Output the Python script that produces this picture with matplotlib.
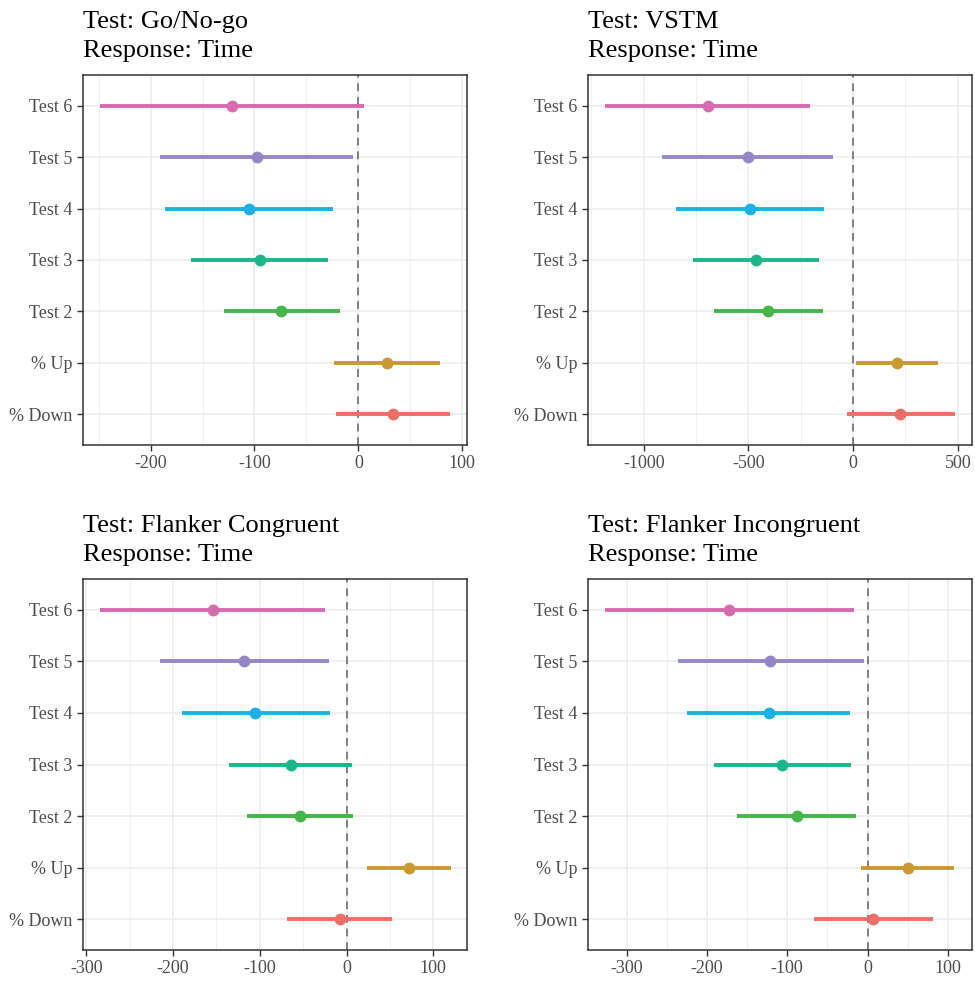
import numpy as np
import matplotlib
matplotlib.use('Agg')
import matplotlib.pyplot as plt
from matplotlib.ticker import MultipleLocator

plt.rcParams['font.family'] = ['Liberation Serif', 'DejaVu Serif']
plt.rcParams['axes.unicode_minus'] = False

categories = ['% Down', '% Up', 'Test 2', 'Test 3', 'Test 4', 'Test 5', 'Test 6']
colors = ['#EF6E67', '#C99A2E', '#45B649', '#1BB68A', '#1AB1E6', '#9587C6', '#D86BAF']

titles = ['Go/No-go', 'VSTM', 'Flanker Congruent', 'Flanker Incongruent']

# estimate, lower, upper for each category (bottom to top)
gonogo_est = [33, 28, -74, -95, -105, -98, -122]
gonogo_lo = [-22, -23, -129, -161, -186, -191, -249]
gonogo_hi = [88, 79, -18, -29, -24, -5, 5]

vstm_est = [226, 210, -404, -463, -492, -503, -694]
vstm_lo = [-29, 14, -666, -763, -846, -911, -1185]
vstm_hi = [486, 406, -143, -164, -137, -96, -204]

fc_est = [-8, 72, -54, -64, -105, -118, -154]
fc_lo = [-69, 24, -115, -135, -190, -215, -284]
fc_hi = [53, 120, 7, 6, -19, -20, -25]

fi_est = [7, 50, -88, -106, -123, -121, -172]
fi_lo = [-67, -8, -162, -191, -225, -236, -327]
fi_hi = [81, 108, -14, -21, -22, -5, -17]

panels = [
    (gonogo_est, gonogo_lo, gonogo_hi, (-265, 104.5), 100),
    (vstm_est, vstm_lo, vstm_hi, (-1266, 568), 500),
    (fc_est, fc_lo, fc_hi, (-304, 139), 100),
    (fi_est, fi_lo, fi_hi, (-348, 130), 100),
]

fig = plt.figure(figsize=(9.75, 9.82), dpi=100)
W, H = 975, 982
boxes = [(83, 75, 467, 445), (588, 75, 972, 445), (83, 579, 467, 950), (588, 579, 972, 950)]
title_base = [28, 28, 532, 532]

for i, (est, lo, hi, xl, step) in enumerate(panels):
    x0, y0, x1, y1 = boxes[i]
    ax = fig.add_axes([x0 / W, 1 - y1 / H, (x1 - x0) / W, (y1 - y0) / H])
    y = np.arange(1, len(categories) + 1)
    ax.xaxis.set_major_locator(MultipleLocator(step))
    ax.xaxis.set_minor_locator(MultipleLocator(step / 2))
    ax.grid(which='major', axis='both', color='#EBEBEB', lw=1.1, zorder=0)
    ax.grid(which='minor', axis='x', color='#EBEBEB', lw=0.55, zorder=0)
    ax.axvline(0, color='#7F7F7F', lw=1.4, ls=(0, (4, 3)), zorder=1)
    for j in range(len(categories)):
        ax.plot([lo[j], hi[j]], [y[j], y[j]], color=colors[j], lw=2.8,
                solid_capstyle='butt', zorder=2)
        ax.plot(est[j], y[j], 'o', color=colors[j], ms=7.5, zorder=3)
    ax.set_xlim(*xl)
    ax.set_ylim(0.4, 7.6)
    ax.set_yticks(y)
    ax.set_yticklabels(categories)
    ax.set_axisbelow(True)
    ax.tick_params(axis='both', which='major', labelsize=13, colors='#333333',
                   labelcolor='#4D4D4D', length=4, width=1)
    ax.tick_params(axis='x', which='minor', length=0)
    for s in ax.spines.values():
        s.set_color('#333333')
        s.set_linewidth(1.1)
    yb = title_base[i]
    fig.text(x0 / W, 1 - yb / H, 'Test: ' + titles[i],
             fontsize=19, ha='left', va='baseline', color='black')
    fig.text(x0 / W, 1 - (yb + 29) / H, 'Response: Time',
             fontsize=19, ha='left', va='baseline', color='black')

fig.savefig('out.png', dpi=100)
